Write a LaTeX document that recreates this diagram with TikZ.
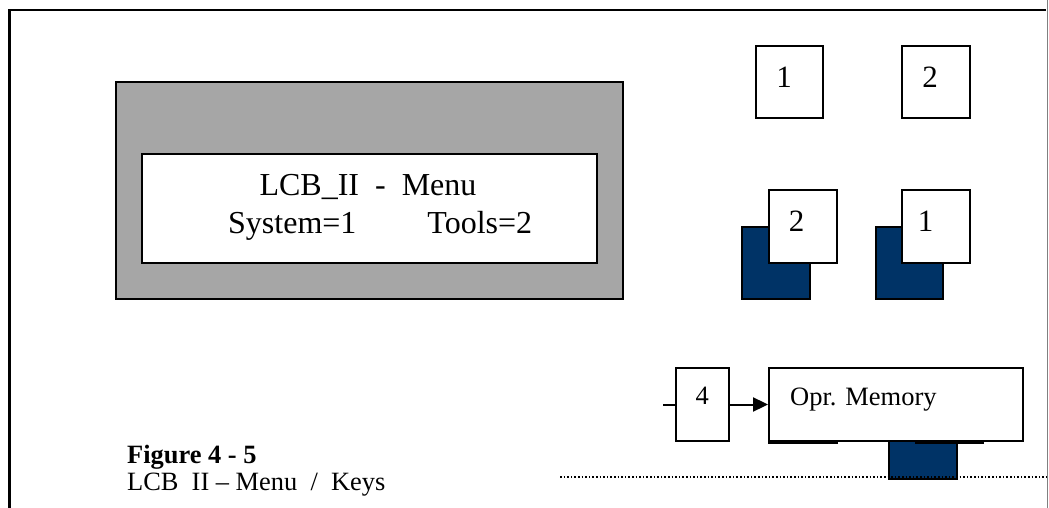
\documentclass[tikz,border=0pt]{standalone}
\usepackage{fontspec}
\setmainfont{Liberation Serif}
\usetikzlibrary{arrows.meta}
\definecolor{navy}{RGB}{0,51,102}
\definecolor{panelgray}{RGB}{166,166,166}
\begin{document}
\begin{tikzpicture}[x=1pt,y=-1pt,
  box/.style={draw=black, line width=2pt, rectangle, inner sep=0pt},
  keybox/.style={box, fill=white, minimum width=67.6pt, minimum height=72.4pt},
  navybox/.style={box, fill=navy, minimum width=67.6pt, minimum height=72.4pt},
  keytxt/.style={anchor=base, inner sep=0pt, font=\fontsize{31}{37}\selectfont},
  bigtxt/.style={inner sep=0pt, font=\fontsize{32}{38}\selectfont},
  captxt/.style={anchor=base west, inner sep=0pt, font=\fontsize{26.4}{31}\selectfont}]
\useasboundingbox (0,0) rectangle (1049,508);
% outer frame
\draw[line width=2.6pt] (9.3,508) |- (1046,10);
\draw[gray, line width=1pt] (1047.6,0) -- (1047.6,508);
% display panel
\node[box, fill=panelgray, minimum width=507.6pt, minimum height=217pt] (panel) at (369.5,190.8) {};
\node[box, fill=white, minimum width=454.4pt, minimum height=108.4pt] (screen) at (369.5,208.5) {};
\node[bigtxt, anchor=base] (title) at (368,195) {LCB\_II\ \ -\ \ Menu};
\node[bigtxt, anchor=base west] (choice) at (228,233) {System=1\hspace{71pt}Tools=2};
% top keys
\node[keybox] (k1) at (789.5,82) {};
\node[keytxt] (k1t) at (784,87.3) {1};
\node[keybox] (k2) at (935.8,82) {};
\node[keytxt] (k2t) at (930,87.3) {2};
% pressed keys
\node[navybox] (n2) at (776.2,262.9) {};
\node[keybox] (p2) at (802.9,226.4) {};
\node[keytxt] (p2t) at (796.7,231.7) {2};
\node[navybox] (n1) at (909.5,262.9) {};
\node[keybox] (p1) at (936.2,226.4) {};
\node[keytxt] (p1t) at (925.7,231.7) {1};
% bottom row
\node[navybox] (n3) at (922.9,443) {};
\node[keybox] (h1) at (802.9,407.1) {};
\node[keybox] (h2) at (949.5,407.1) {};
\node[box, fill=white, minimum width=254.3pt, minimum height=72.4pt] (opr) at (896.2,404.5) {};
\node[anchor=base west, inner sep=0pt, font=\fontsize{26.5}{31}\selectfont] (oprt) at (790,405) {Opr. Memory};
\node[box, fill=white, minimum width=53.3pt, minimum height=72.4pt] (k4) at (702.7,404.5) {};
\node[anchor=base, inner sep=0pt, font=\fontsize{26.5}{31}\selectfont] (k4t) at (702.3,404) {4};
\coordinate (stub) at (663,404.5);
\draw[line width=2pt] (stub) -- (k4.west);
\draw[line width=2pt, -{Triangle[length=15pt,width=14pt]}] (k4.east) -- (opr.west);
% dotted separator
\coordinate (dl) at (560,476.7);
\coordinate (dr) at (1047,476.7);
\draw[line width=1.6pt, dash pattern=on 1.6pt off 2pt] (dl) -- (dr);
% caption
\node[captxt, font=\fontsize{26.4}{31}\selectfont\bfseries] (cap1) at (127,463.3) {Figure 4 - 5};
\node[captxt] (cap2) at (127,490.7) {LCB\ \ II – Menu\ \ /\ \ Keys};
\end{tikzpicture}
\end{document}
